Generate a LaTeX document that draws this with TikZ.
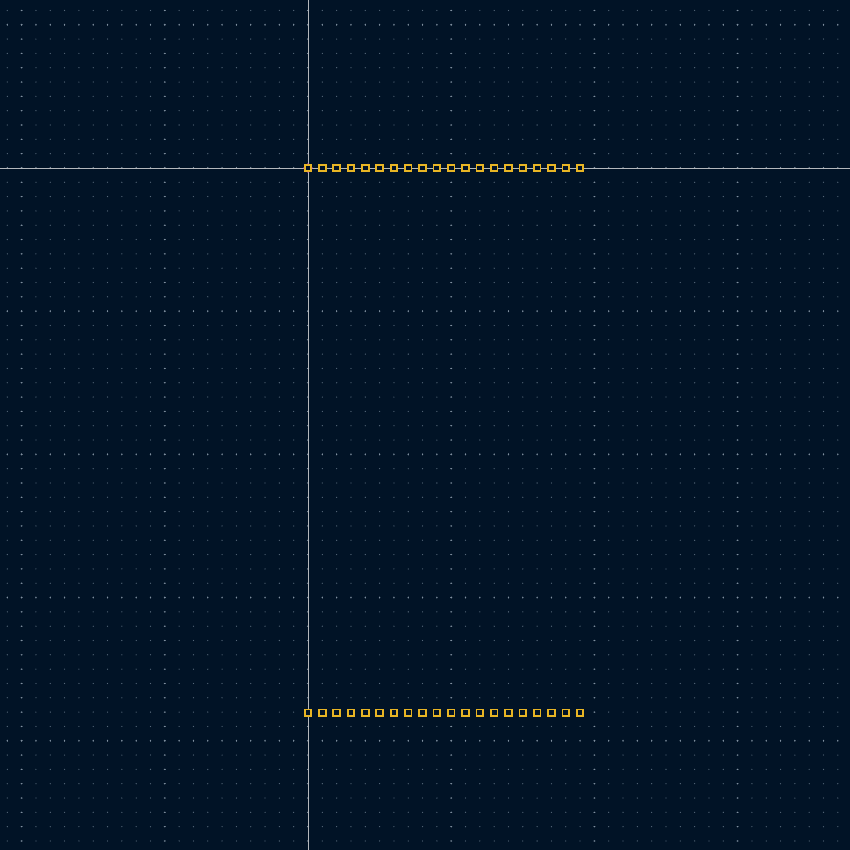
\documentclass[tikz,border=0pt]{standalone}
\definecolor{boardbg}{HTML}{011326}
\definecolor{griddot}{HTML}{56687A}
\definecolor{majordot}{HTML}{8090A0}
\definecolor{axisgray}{HTML}{B4B8BC}
\definecolor{padgold}{HTML}{E8B524}
\definecolor{originpink}{HTML}{E040C0}
\usepackage{tikz}
\usetikzlibrary{positioning}

\begin{document}
\begin{tikzpicture}[x=0.25cm, y=0.25cm,
  padbox/.style={draw=padgold, fill=boardbg, line width=0.9pt, minimum size=3.3pt, inner sep=0pt},
  axisline/.style={axisgray, line width=0.45pt}]
  \fill[boardbg] (-21.51,-47.63) rectangle (37.85,11.73);
  \useasboundingbox (-21.51,-47.63) rectangle (37.85,11.73);
  \foreach \gx in {-21,...,37}
    \foreach \gy in {-47,...,11}
      \fill[griddot] (\gx,\gy) circle (0.045);
  \foreach \gx in {-20,-10,...,30}
    \foreach \gy in {-47,...,11}
      \fill[majordot] (\gx,\gy) ellipse (0.08 and 0.045);
  \foreach \gy in {-40,-30,...,10}
    \foreach \gx in {-21,...,37}
      \fill[majordot] (\gx,\gy) ellipse (0.045 and 0.08);
  \coordinate (axisW) at (-21.51,0);
  \coordinate (axisE) at (37.85,0);
  \coordinate (axisN) at (0,11.73);
  \coordinate (axisS) at (0,-47.63);
  \draw[axisline] (axisW) -- (axisE);
  \draw[axisline] (axisN) -- (axisS);
  \foreach \i in {0,...,19} {
    \node[padbox] (top-\i) at (\i,0) {};
    \node[padbox] (bot-\i) at (\i,-38.05) {};
  }
  \foreach \side in {north,south,east,west}
    \fill[originpink] (top-0.\side) circle (0.3pt);
\end{tikzpicture}
\end{document}
